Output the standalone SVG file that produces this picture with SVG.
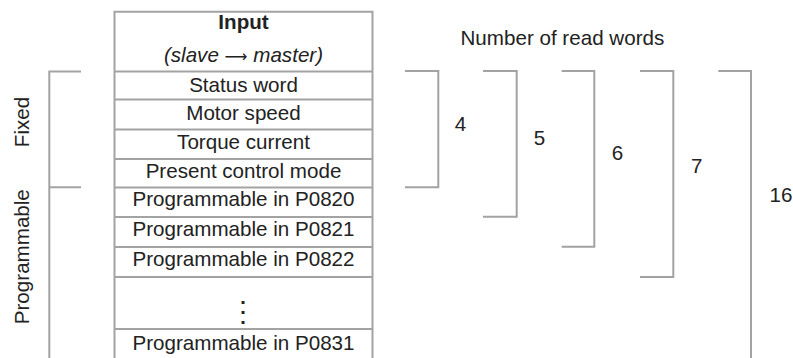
<svg xmlns="http://www.w3.org/2000/svg" width="793" height="358" viewBox="0 0 793 358">
<style>
.ln{fill:none;stroke:#a3a3a3;stroke-width:2}
text{font-family:"Liberation Sans",Arial,sans-serif;font-size:20.6px;fill:#222}
.c{text-anchor:middle}
.b{font-weight:bold}
.i{font-style:italic}
.dv{font-family:"DejaVu Sans",sans-serif}
</style>
<rect width="793" height="358" fill="#fff"/>
<g id="table">
<path class="ln" d="M114.5,358V11.7H372.5V358M114.5,71.5H372.5M114.5,99.5H372.5M114.5,129.5H372.5M114.5,159H372.5M114.5,187.5H372.5M114.5,217H372.5M114.5,247H372.5M114.5,277H372.5M114.5,329H372.5"/>
</g>
<g id="header">
<text class="c b" x="243.5" y="29">Input</text>
<text class="c i" x="243.5" y="62">(slave <tspan class="dv" style="font-style:normal;font-size:16px">⟶</tspan> master)</text>
</g>
<g id="row-status"><text class="c" x="243.5" y="91.5">Status word</text></g>
<g id="row-speed"><text class="c" x="243.5" y="120">Motor speed</text></g>
<g id="row-torque"><text class="c" x="243.5" y="149">Torque current</text></g>
<g id="row-mode"><text class="c" x="243.5" y="177.5">Present control mode</text></g>
<g id="row-p0820"><text class="c" x="243.5" y="205.5">Programmable in P0820</text></g>
<g id="row-p0821"><text class="c" x="243.5" y="235.5">Programmable in P0821</text></g>
<g id="row-p0822"><text class="c" x="243.5" y="266">Programmable in P0822</text></g>
<g id="row-dots"><text class="c dv" x="243" y="320.5" style="font-size:28px;font-weight:200">⋮</text></g>
<g id="row-p0831"><text class="c" x="243.5" y="350">Programmable in P0831</text></g>
<g id="connectors">
<path class="ln" d="M81,71.5H49.3V358M49.3,187.3H81"/>
<path class="ln" d="M405,71H438.3V187.3H405"/>
<path class="ln" d="M483,71H516.7V216.7H483"/>
<path class="ln" d="M561.7,71H594.3V246.7H561.7"/>
<path class="ln" d="M640,71H673.3V277H640"/>
<path class="ln" d="M718.3,71H751V358"/>
</g>
<g id="labels">
<text class="c" transform="translate(29,122) rotate(-90)">Fixed</text>
<text class="c" transform="translate(29,256.7) rotate(-90)">Programmable</text>
<text x="460.5" y="45">Number of read words</text>
<text class="c" x="460.5" y="131">4</text>
<text class="c" x="539.5" y="145">5</text>
<text class="c" x="617.5" y="160">6</text>
<text class="c" x="696.7" y="173.3">7</text>
<text class="c" x="781" y="201.7">16</text>
</g>
</svg>
